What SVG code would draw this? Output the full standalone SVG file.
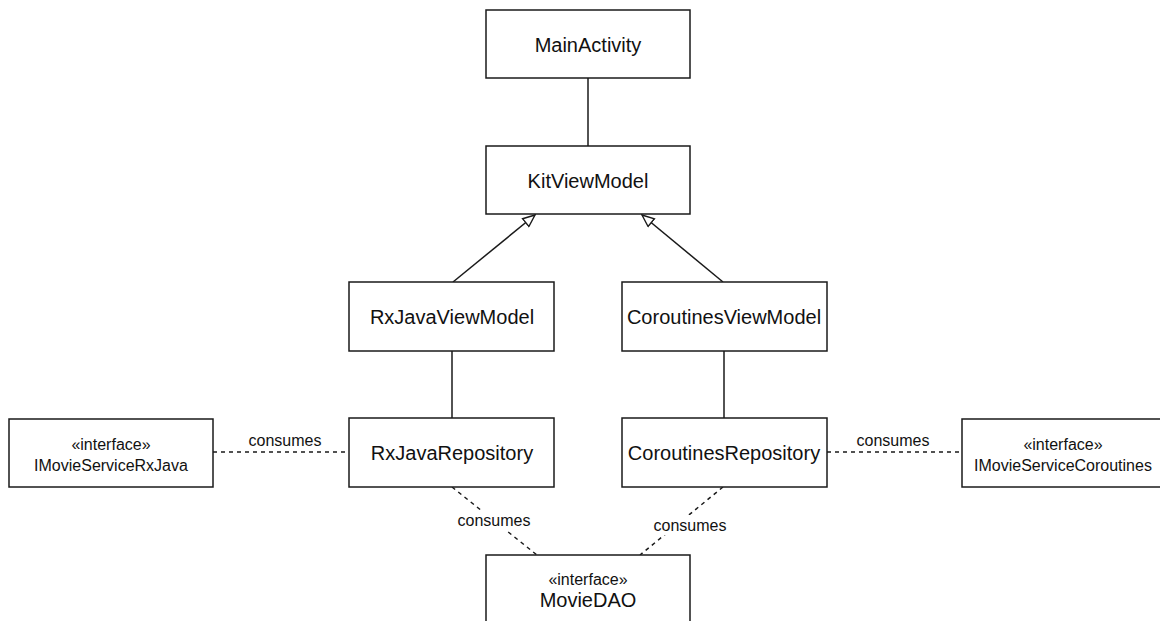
<svg xmlns="http://www.w3.org/2000/svg" width="1160" height="621" viewBox="0 0 1160 621">
<style>
.box{fill:#fff;stroke:#1a1a1a;stroke-width:1.5}
.t{font-family:"Liberation Sans",Arial,sans-serif;fill:#111;text-anchor:middle;dominant-baseline:central}
.big{font-size:20px}
.sm{font-size:16px}
.ln{fill:none;stroke:#1a1a1a;stroke-width:1.5}
.dash{fill:none;stroke:#1a1a1a;stroke-width:1.5;stroke-dasharray:4 4}
</style>
<defs>
<marker id="tri" viewBox="0 0 14 12" refX="13" refY="6" markerWidth="14" markerHeight="12" markerUnits="userSpaceOnUse" orient="auto">
<path d="M1,1 L13,6 L1,11 Z" fill="#fff" stroke="#1a1a1a" stroke-width="1.4"/>
</marker>
</defs>
<rect width="1160" height="621" fill="#fff"/>
<g id="connectors">
<line class="ln" x1="588" y1="78" x2="588" y2="146"/>
<line class="ln" x1="453" y1="282" x2="535" y2="215" marker-end="url(#tri)"/>
<line class="ln" x1="723" y1="282" x2="642" y2="215" marker-end="url(#tri)"/>
<line class="ln" x1="452" y1="351" x2="452" y2="418"/>
<line class="ln" x1="724" y1="351" x2="724" y2="418"/>
<line class="dash" x1="213" y1="452" x2="349" y2="452"/>
<line class="dash" x1="827" y1="452" x2="962" y2="452"/>
<line class="dash" x1="452" y1="487" x2="537" y2="555"/>
<line class="dash" x1="723" y1="487" x2="640" y2="555"/>
<text class="t sm" x="285" y="440">consumes</text>
<text class="t sm" x="893" y="440">consumes</text>
<rect x="450" y="510" width="88" height="20" fill="#fff"/>
<text class="t sm" x="494" y="520">consumes</text>
<rect x="646" y="515" width="88" height="20" fill="#fff"/>
<text class="t sm" x="690" y="525">consumes</text>
</g>
<g id="MainActivity">
<rect class="box" x="486" y="10" width="204" height="68"/>
<text class="t big" x="588" y="45">MainActivity</text>
</g>
<g id="KitViewModel">
<rect class="box" x="486" y="146" width="204" height="68"/>
<text class="t big" x="588" y="181">KitViewModel</text>
</g>
<g id="RxJavaViewModel">
<rect class="box" x="349" y="282" width="205" height="69"/>
<text class="t big" x="452" y="317">RxJavaViewModel</text>
</g>
<g id="CoroutinesViewModel">
<rect class="box" x="622" y="282" width="205" height="69"/>
<text class="t big" x="724" y="317">CoroutinesViewModel</text>
</g>
<g id="RxJavaRepository">
<rect class="box" x="349" y="418" width="205" height="69"/>
<text class="t big" x="452" y="453">RxJavaRepository</text>
</g>
<g id="CoroutinesRepository">
<rect class="box" x="622" y="418" width="205" height="69"/>
<text class="t big" x="724" y="453">CoroutinesRepository</text>
</g>
<g id="IMovieServiceRxJava">
<rect class="box" x="9" y="419" width="204" height="68"/>
<text class="t sm" x="111" y="444">«interface»</text>
<text class="t sm" x="111" y="465">IMovieServiceRxJava</text>
</g>
<g id="IMovieServiceCoroutines">
<rect class="box" x="962" y="419" width="204" height="68"/>
<text class="t sm" x="1063" y="444">«interface»</text>
<text class="t sm" x="1063" y="465">IMovieServiceCoroutines</text>
</g>
<g id="MovieDAO">
<rect class="box" x="486" y="555" width="204" height="70"/>
<text class="t sm" x="588" y="579">«interface»</text>
<text class="t big" x="588" y="600">MovieDAO</text>
</g>
</svg>
